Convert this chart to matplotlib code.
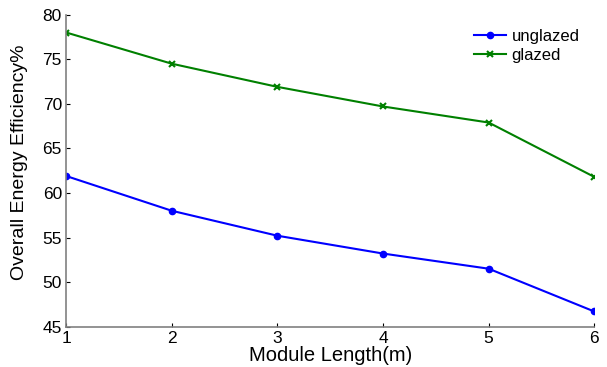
import matplotlib
matplotlib.use("Agg")
import matplotlib.pyplot as plt

plt.rcParams['font.family'] = ['Liberation Sans', 'DejaVu Sans']

# module length (m) and overall energy efficiency (%)
module_length = [1, 2, 3, 4, 5, 6]
unglazed = [61.9, 58.0, 55.2, 53.2, 51.5, 46.7]
glazed = [78.0, 74.5, 71.9, 69.7, 67.9, 61.8]

fig = plt.figure(figsize=(6.07, 3.67), dpi=100)
ax = fig.add_axes([0.109, 0.110, 0.870, 0.850])

ax.plot(module_length, unglazed, color='#0000ff', marker='o', markersize=4.5,
        linewidth=1.5, label='unglazed')
ax.plot(module_length, glazed, color='#008000', marker='x', markersize=5,
        markeredgewidth=1.5, linewidth=1.5, label='glazed')

ax.set_xlim(1, 6)
ax.set_ylim(45, 80)
ax.set_xticks(module_length)
ax.set_yticks(range(45, 81, 5))

for side in ['top', 'right']:
    ax.spines[side].set_visible(False)
for side in ['left', 'bottom']:
    ax.spines[side].set_color('#808080')
    ax.spines[side].set_linewidth(1.2)

ax.tick_params(direction='in', length=3, width=0.8, color='black',
               labelsize=12.5, pad=3)

ax.set_xlabel('Module Length(m)', fontsize=14.5, labelpad=0)
ax.set_ylabel('Overall Energy Efficiency%', fontsize=14)
ax.yaxis.set_label_coords(-0.072, 0.527)

ax.legend(loc='upper left', bbox_to_anchor=(0.76, 0.975), frameon=False,
          fontsize=12, handlelength=1.9, handletextpad=0.35, labelspacing=0.25,
          borderaxespad=0)

fig.savefig('out.png', dpi=100)
